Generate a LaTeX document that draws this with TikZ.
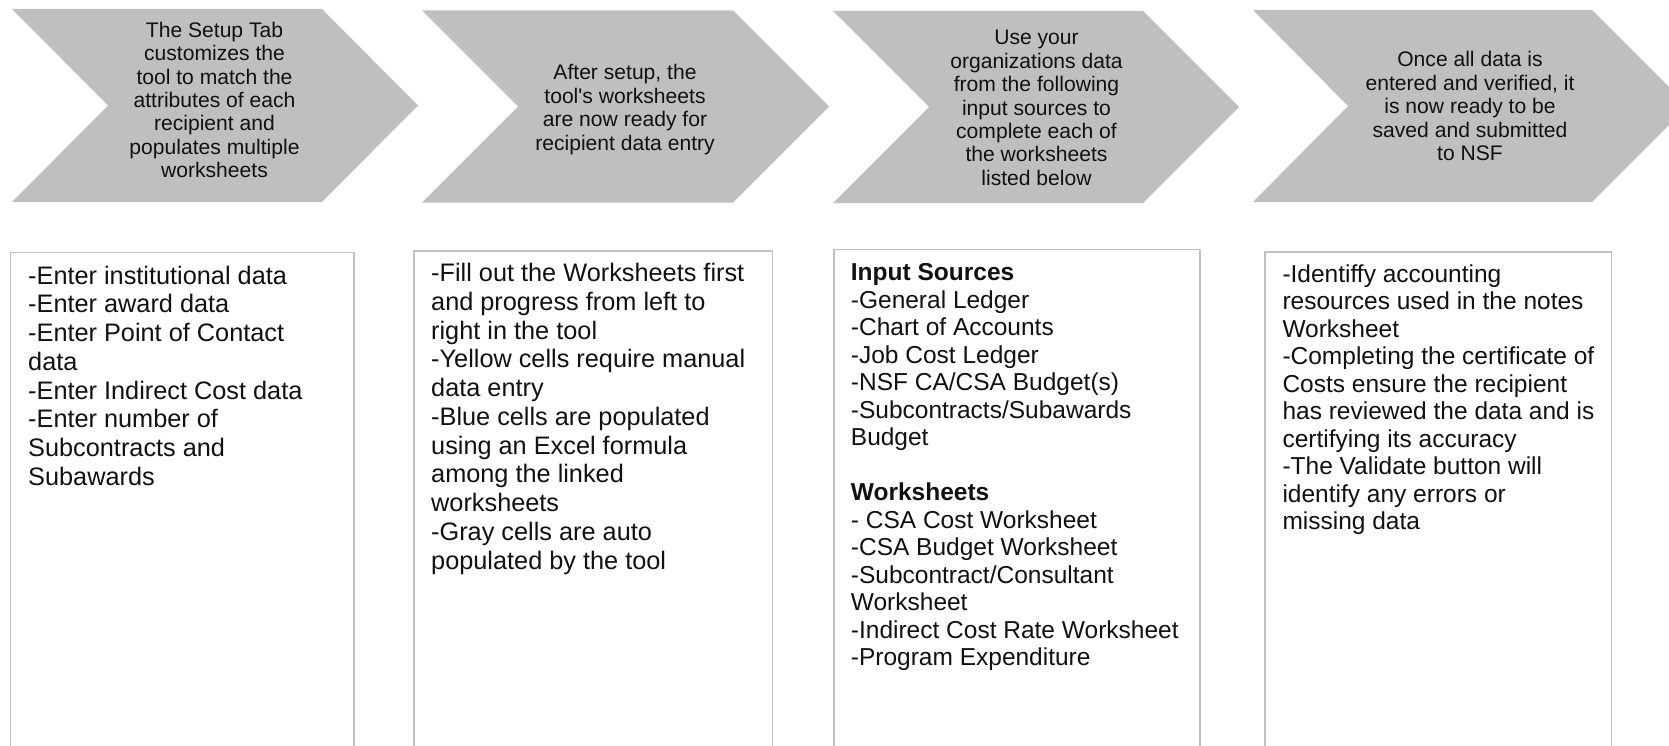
\documentclass[tikz,border=0pt]{standalone}
\usepackage{fontspec}
\setmainfont{Liberation Sans}[Ligatures=TeXOff]
\definecolor{chev}{HTML}{BFBFBF}
\definecolor{boxline}{HTML}{C0C0C0}
\definecolor{ink}{HTML}{111111}
\tikzset{
  chevron/.style={fill=chev, draw=none},
  listbox/.style={draw=boxline, line width=1.5pt, fill=white},
  chevtext/.style={anchor=base, inner sep=0pt, text=ink,
    font=\fontsize{21.1}{23.4}\selectfont},
  bigtext/.style={anchor=base west, inner sep=0pt, text=ink,
    font=\fontsize{25.3}{28.75}\selectfont},
  smalltext/.style={anchor=base west, inner sep=0pt, text=ink,
    font=\fontsize{24.5}{27.5}\selectfont}
}
\newcommand{\chevlines}[2]{\begin{minipage}[t]{#1pt}\centering #2\end{minipage}}
\newcommand{\boxlines}[2]{\begin{minipage}[t]{#1pt}\raggedright #2\end{minipage}}
\begin{document}
\begin{tikzpicture}[x=1pt,y=-1pt]
\useasboundingbox (0,0) rectangle (1669,746);
\clip (0,0) rectangle (1669,746);

% chevrons
\draw[chevron] (12,9) -- (322,9) -- (418,105.5) -- (322,202) -- (12,202) -- (108,105.5) -- cycle;
\draw[chevron] (422,10.5) -- (733,10.5) -- (829,106.5) -- (733,202.5) -- (422,202.5) -- (518,106.5) -- cycle;
\draw[chevron] (833,11) -- (1143,11) -- (1239,107) -- (1143,203) -- (833,203) -- (929,107) -- cycle;
\draw[chevron] (1253,10) -- (1592,10) -- (1688,106) -- (1592,202) -- (1253,202) -- (1348,106) -- cycle;

\node[chevtext] (c1) at (214.5,37.3) {\chevlines{240}{The Setup Tab\\customizes the\\tool to match the\\attributes of each\\recipient and\\populates multiple\\worksheets}};
\node[chevtext] (c2) at (625,80) {\chevlines{240}{After setup, the\\tool's worksheets\\are now ready for\\recipient data entry}};
\node[chevtext] (c3) at (1036.5,45) {\chevlines{240}{Use your\\organizations data\\from the following\\input sources to\\complete each of\\the worksheets\\listed below}};
\node[chevtext] (c4) at (1470,67) {\chevlines{260}{Once all data is\\entered and verified, it\\is now ready to be\\saved and submitted\\to NSF}};

% boxes (open below the picture's edge)
\draw[listbox] (10.5,252.5) rectangle (354,770);
\draw[listbox] (414,251) rectangle (772.5,770);
\draw[listbox] (834,249.5) rectangle (1200,770);
\draw[listbox] (1265,252) rectangle (1611.5,770);

\node[bigtext] (b1) at (28,284) {\boxlines{320}{-Enter institutional data\\-Enter award data\\-Enter Point of Contact\\data\\-Enter Indirect Cost data\\-Enter number of\\Subcontracts and\\Subawards}};
\node[bigtext] (b2) at (431,281.7) {\boxlines{340}{-Fill out the Worksheets first\\and progress from left to\\right in the tool\\-Yellow cells require manual\\data entry\\-Blue cells are populated\\using an Excel formula\\among the linked\\worksheets\\-Gray cells are auto\\populated by the tool}};
\node[smalltext] (b3) at (850.7,280.7) {\boxlines{345}{\textbf{Input Sources}\\-General Ledger\\-Chart of Accounts\\-Job Cost Ledger\\-NSF CA/CSA Budget(s)\\-Subcontracts/Subawards\\Budget\\\mbox{}\\\textbf{Worksheets}\\- CSA Cost Worksheet\\-CSA Budget Worksheet\\-Subcontract/Consultant\\Worksheet\\-Indirect Cost Rate Worksheet\\-Program Expenditure}};
\node[smalltext] (b4) at (1282.3,282.3) {\boxlines{325}{-Identiffy accounting\\resources used in the notes\\Worksheet\\-Completing the certificate of\\Costs ensure the recipient\\has reviewed the data and is\\certifying its accuracy\\-The Validate button will\\identify any errors or\\missing data}};
\end{tikzpicture}
\end{document}
